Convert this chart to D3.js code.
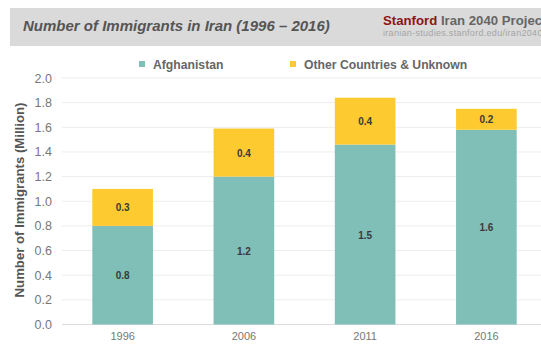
<!DOCTYPE html>
<html>
<head>
<meta charset="utf-8">
<script src="https://cdn.jsdelivr.net/npm/d3@7"></script>
<style>
  html, body { margin: 0; padding: 0; background: #fff; }
  svg { display: block; }
  text { font-family: "Liberation Sans", Arial, sans-serif; }
</style>
</head>
<body>
<svg id="chart" width="541" height="345"></svg>
<script>
// Immigrant population in Iran by census year (millions)
const years = ["1996", "2006", "2011", "2016"];
const afghanistan = [0.80, 1.20, 1.46, 1.58];
const otherCountries = [0.30, 0.39, 0.38, 0.17];
const seriesNames = ["Afghanistan", "Other Countries & Unknown"];
const seriesColors = ["#7fbfb7", "#fdca30"];
const yTicks = [0, 0.2, 0.4, 0.6, 0.8, 1.0, 1.2, 1.4, 1.6, 1.8, 2.0];

const svg = d3.select("#chart");
const W = 541, H = 345;
const FONT = "'Liberation Sans', Arial, sans-serif";

// Header band
svg.append("rect").attr("x", 10).attr("y", 8).attr("width", W - 10).attr("height", 38)
  .attr("fill", "#dadada");
svg.append("text").attr("x", 23).attr("y", 31)
  .attr("font-size", 15).attr("font-weight", 700).attr("font-style", "italic")
  .attr("fill", "#555")
  .text("Number of Immigrants in Iran (1996 – 2016)");
const brand = svg.append("text").attr("x", 383).attr("y", 25)
  .attr("font-family", "'Open Sans', sans-serif")
  .attr("font-size", 13.2).attr("font-weight", 700);
brand.append("tspan").attr("fill", "#8c1515").text("Stanford");
brand.append("tspan").attr("fill", "#666").text(" Iran 2040 Project");
svg.append("text").attr("x", 383).attr("y", 36)
  .attr("font-size", 9).attr("letter-spacing", 0.3).attr("fill", "#a5a5a5")
  .text("iranian-studies.stanford.edu/iran2040");

// Scales
const margin = { left: 62, right: -6, top: 78, bottom: 20.5 };
const x = d3.scaleBand().domain(years).range([margin.left, W - margin.right]).paddingInner(0.5).paddingOuter(0.25);
const y = d3.scaleLinear().domain([0, 2]).range([H - margin.bottom, margin.top]);

// Gridlines
svg.append("g").selectAll("line").data(yTicks).join("line")
  .attr("x1", margin.left).attr("x2", W)
  .attr("y1", d => y(d)).attr("y2", d => y(d))
  .attr("stroke", d => d === 0 ? "#dcdcdc" : "#ededed").attr("stroke-width", 1);

// Y axis labels
const yAxis = d3.axisLeft(y).tickValues(yTicks).tickFormat(d3.format(".1f")).tickSize(0).tickPadding(10);
const gy = svg.append("g").attr("transform", `translate(${margin.left},0)`).call(yAxis);
gy.select(".domain").remove();
gy.selectAll("text").attr("font-size", 12.5).attr("fill", "#777").attr("font-family", FONT);

// Y axis title
svg.append("text")
  .attr("transform", `translate(24,200) rotate(-90)`)
  .attr("text-anchor", "middle").attr("font-size", 13.2).attr("font-weight", 700).attr("fill", "#555")
  .text("Number of Immigrants (Million)");

// X axis labels
const xAxis = d3.axisBottom(x).tickSize(0).tickPadding(8);
const gx = svg.append("g").attr("transform", `translate(0,${y(0)})`).call(xAxis);
gx.select(".domain").remove();
gx.selectAll("text").attr("font-size", 11).attr("fill", "#777").attr("font-family", FONT);

// Stacked bars
const rows = years.map((yr, i) => ({ year: yr, a: afghanistan[i], o: otherCountries[i] }));
const stack = d3.stack().keys(["a", "o"])(rows);
const fmt = d3.format(".1f");

stack.forEach((layer, li) => {
  const g = svg.append("g");
  g.selectAll("rect").data(layer).join("rect")
    .attr("x", d => x(d.data.year))
    .attr("width", x.bandwidth())
    .attr("y", d => y(d[1]))
    .attr("height", d => y(d[0]) - y(d[1]))
    .attr("fill", seriesColors[li]);
  g.selectAll("text").data(layer).join("text")
    .attr("x", d => x(d.data.year) + x.bandwidth() / 2)
    .attr("y", d => (y(d[0]) + y(d[1])) / 2 + 4)
    .attr("text-anchor", "middle").attr("font-size", 10).attr("font-weight", 700)
    .attr("fill", "#3a3a3a")
    .text(d => fmt(d[1] - d[0]));
});

// Legend
const legendItems = [
  { name: seriesNames[0], color: seriesColors[0], x: 139 },
  { name: seriesNames[1], color: seriesColors[1], x: 290 }
];
const lg = svg.append("g").selectAll("g").data(legendItems).join("g")
  .attr("transform", d => `translate(${d.x},64)`);
lg.append("rect").attr("x", 0).attr("y", -3).attr("width", 6).attr("height", 6).attr("fill", d => d.color);
lg.append("text").attr("x", 14).attr("y", 4.5).attr("font-size", 12.2).attr("font-weight", 700)
  .attr("fill", "#666").text(d => d.name);
</script>
</body>
</html>
